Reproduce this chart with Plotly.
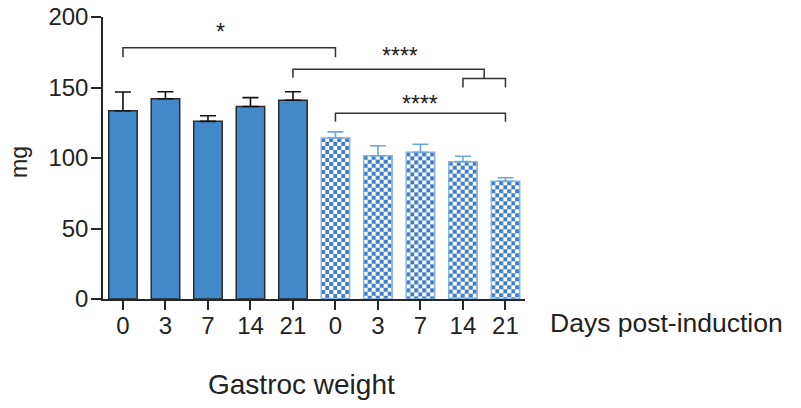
import base64
import plotly.graph_objects as go

# ---------------- data ----------------
tick_labels = ["0", "3", "7", "14", "21", "0", "3", "7", "14", "21"]
solid_idx = [0, 1, 2, 3, 4]
solid_vals = [133.5, 142.0, 126.0, 136.5, 141.0]
solid_err = [13.3, 5.0, 4.0, 6.3, 6.0]
check_idx = [5, 6, 7, 8, 9]
check_vals = [114.2, 101.6, 104.0, 97.4, 83.5]
check_err = [4.3, 7.1, 5.7, 3.8, 2.5]

# significance brackets: left x, right x, bar height, left drop end, right drop end
br_x0 = [0, 4, 8, 5]
br_x1 = [5, 8.5, 9, 9]
br_y = [178.2, 162.9, 156.4, 131.7]
br_yl = [171.4, 157.0, 150.0, 125.7]
br_yr = [171.4, 156.4, 150.0, 125.7]
star_text = ["*", "****", "****"]
star_x = [2.3, 6.52, 7.0]
star_y = [191.5, 174.5, 140.5]

# ---------------- style ----------------
W, H = 801, 408
ml, mr, mt, mb = 103, 276, 17, 109
xr = [-0.47, 9.46]
yr = [0, 200]
bar_w = 0.67
px_x = (W - ml - mr) / (xr[1] - xr[0])
px_y = (H - mt - mb) / (yr[1] - yr[0])
solid_col = "#4289C9"
check_col = "#3D7CC9"
check_line = "#86B4E2"
check_err_col = "#6FA6DC"
ink = "#222222"
FONT = "Liberation Sans, Arial, sans-serif"

fig = go.Figure()
fig.add_trace(go.Bar(
    x=solid_idx, y=solid_vals, width=bar_w,
    marker=dict(color=solid_col, line=dict(color="#2a2a2a", width=1.5)),
    error_y=dict(type="data", symmetric=False, array=solid_err,
                 arrayminus=[0] * len(solid_err), color="#111111",
                 thickness=1.6, width=8),
    showlegend=False,
))
fig.add_trace(go.Bar(
    x=check_idx, y=check_vals, width=bar_w,
    marker=dict(color="rgba(0,0,0,0)", line=dict(color=check_line, width=1.5)),
    error_y=dict(type="data", symmetric=False, array=check_err,
                 arrayminus=[0] * len(check_err), color=check_err_col,
                 thickness=1.6, width=8),
    showlegend=False,
))


def checker_uri(wpx, hpx, s=4.0):
    svg = (
        f"<svg xmlns='http://www.w3.org/2000/svg' width='{wpx:.2f}' height='{hpx:.2f}' "
        f"viewBox='0 0 {wpx:.2f} {hpx:.2f}' preserveAspectRatio='none'>"
        f"<defs><pattern id='c' width='{2*s}' height='{2*s}' patternUnits='userSpaceOnUse'>"
        f"<rect width='{2*s}' height='{2*s}' fill='white'/>"
        f"<rect width='{s}' height='{s}' fill='{check_col}'/>"
        f"<rect x='{s}' y='{s}' width='{s}' height='{s}' fill='{check_col}'/>"
        f"</pattern></defs><rect width='100%' height='100%' fill='url(#c)'/></svg>"
    )
    return "data:image/svg+xml;base64," + base64.b64encode(svg.encode()).decode()


images = []
for xi, v in zip(check_idx, check_vals):
    images.append(dict(
        source=checker_uri(bar_w * px_x, v * px_y),
        xref="x", yref="y", x=xi - bar_w / 2, y=v,
        sizex=bar_w, sizey=v, sizing="stretch",
        xanchor="left", yanchor="top", layer="below",
    ))

shapes = []
for x0, x1, y, yl, yrr in zip(br_x0, br_x1, br_y, br_yl, br_yr):
    shapes.append(dict(
        type="path", xref="x", yref="y",
        path=f"M {x0} {yl} L {x0} {y} L {x1} {y} L {x1} {yrr}",
        line=dict(color="#333333", width=1.5),
    ))

annotations = []
for t, x, y in zip(star_text, star_x, star_y):
    annotations.append(dict(
        text=t, x=x, y=y, xref="x", yref="y", showarrow=False,
        yshift=-3, font=dict(size=23, color=ink, family=FONT),
    ))
annotations.append(dict(
    text="Days post-induction", xref="paper", yref="paper",
    x=(548 - ml) / (W - ml - mr), y=(299 - 323) / (H - mt - mb),
    xanchor="left", yanchor="middle", showarrow=False,
    font=dict(size=26.5, color=ink, family=FONT),
))
annotations.append(dict(
    text="Gastroc weight", xref="paper", yref="paper",
    x=(206 - ml) / (W - ml - mr), y=(299 - 384) / (H - mt - mb),
    xanchor="left", yanchor="middle", showarrow=False,
    font=dict(size=28, color=ink, family=FONT),
))
annotations.append(dict(
    text="mg", xref="paper", yref="paper",
    x=(19 - ml) / (W - ml - mr), y=(299 - 162) / (H - mt - mb), textangle=-90,
    xanchor="center", yanchor="middle", showarrow=False,
    font=dict(size=23, color=ink, family=FONT),
))

fig.update_layout(
    width=W, height=H,
    margin=dict(l=ml, r=mr, t=mt, b=mb, pad=0, autoexpand=False),
    paper_bgcolor="white", plot_bgcolor="white",
    barmode="overlay",
    images=images, shapes=shapes, annotations=annotations,
    font=dict(family=FONT, color=ink, size=24),
    xaxis=dict(
        range=xr, tickmode="array", tickvals=list(range(10)), ticktext=tick_labels,
        showline=True, linecolor="#262626", linewidth=1.5,
        ticks="outside", ticklen=9, tickwidth=1.5, tickcolor="#262626",
        showgrid=False, zeroline=False, fixedrange=True, automargin=False,
        ticklabelstandoff=-5,
        tickfont=dict(size=24, color=ink, family=FONT),
    ),
    yaxis=dict(
        range=yr, tickvals=[0, 50, 100, 150, 200],
        showline=True, linecolor="#262626", linewidth=1.5,
        ticks="outside", ticklen=10, tickwidth=1.5, tickcolor="#262626",
        showgrid=False, zeroline=False, fixedrange=True, automargin=False,
        ticklabelstandoff=-2,
        tickfont=dict(size=24, color=ink, family=FONT),
    ),
)

fig.write_html("out.html")
